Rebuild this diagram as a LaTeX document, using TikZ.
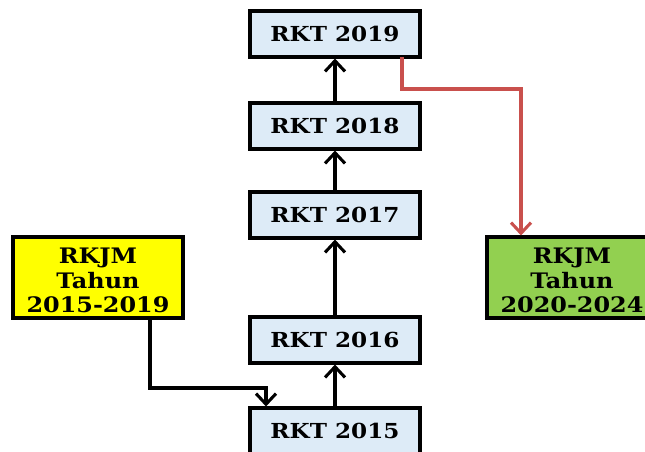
\documentclass[tikz,border=0pt]{standalone}
\usepackage{fontspec}
\setmainfont{DejaVu Serif}[FakeStretch=1.12]
\usetikzlibrary{arrows.meta}
\definecolor{boxblue}{HTML}{DDEBF7}
\definecolor{boxyellow}{HTML}{FFFF00}
\definecolor{boxgreen}{HTML}{92D050}
\definecolor{linered}{HTML}{C9504D}
\begin{document}
\begin{tikzpicture}[x=0.75pt,y=-0.75pt,
  rkt/.style={draw=black,line width=2.3pt,fill=boxblue,minimum width=127.5pt,minimum height=34.5pt,inner sep=0pt,font=\fontsize{15.5}{18.5}\selectfont\bfseries},
  rkjm/.style={draw=black,line width=2.3pt,minimum width=127.5pt,minimum height=60.75pt,inner sep=0pt,align=center,font=\fontsize{16}{18.3}\selectfont\bfseries},
  conn/.style={line width=2.3pt,-{Straight Barb[length=8pt,width=15pt,line width=2.3pt]}},
  redconn/.style={conn,draw=linered}]
\useasboundingbox (0,0) rectangle (645,451);
\clip (0,0) rectangle (645,451);
\node[rkt] (r19) at (335,34) {RKT 2019};
\node[rkt] (r18) at (335,126) {RKT 2018};
\node[rkt] (r17) at (335,215) {RKT 2017};
\node[rkt] (r16) at (335,340) {RKT 2016};
\node[rkt] (r15) at (335,431) {RKT 2015};
\node[rkjm,fill=boxyellow] (y) at (98,277.5) {};
\node[align=center,font=\fontsize{16}{18.3}\selectfont\bfseries] (yt) at (98,280.5) {RKJM\\Tahun\\2015-2019};
\node[rkjm,fill=boxgreen] (g) at (572,277.5) {};
\node[align=center,font=\fontsize{16}{18.3}\selectfont\bfseries] (gt) at (572,280.5) {RKJM\\Tahun\\2020-2024};
\draw[conn] (r15) -- (r16);
\draw[conn] (r16) -- (r17);
\draw[conn] (r17) -- (r18);
\draw[conn] (r18) -- (r19);
\coordinate (ya) at (150,318);
\coordinate (yb) at (266,388);
\draw[conn] (ya) |- (yb) -- (yb |- r15.north);
\coordinate (ra) at (402,57);
\coordinate (rb) at (521,89);
\draw[redconn] (ra) |- (rb) -- (rb |- g.north);
\end{tikzpicture}
\end{document}
